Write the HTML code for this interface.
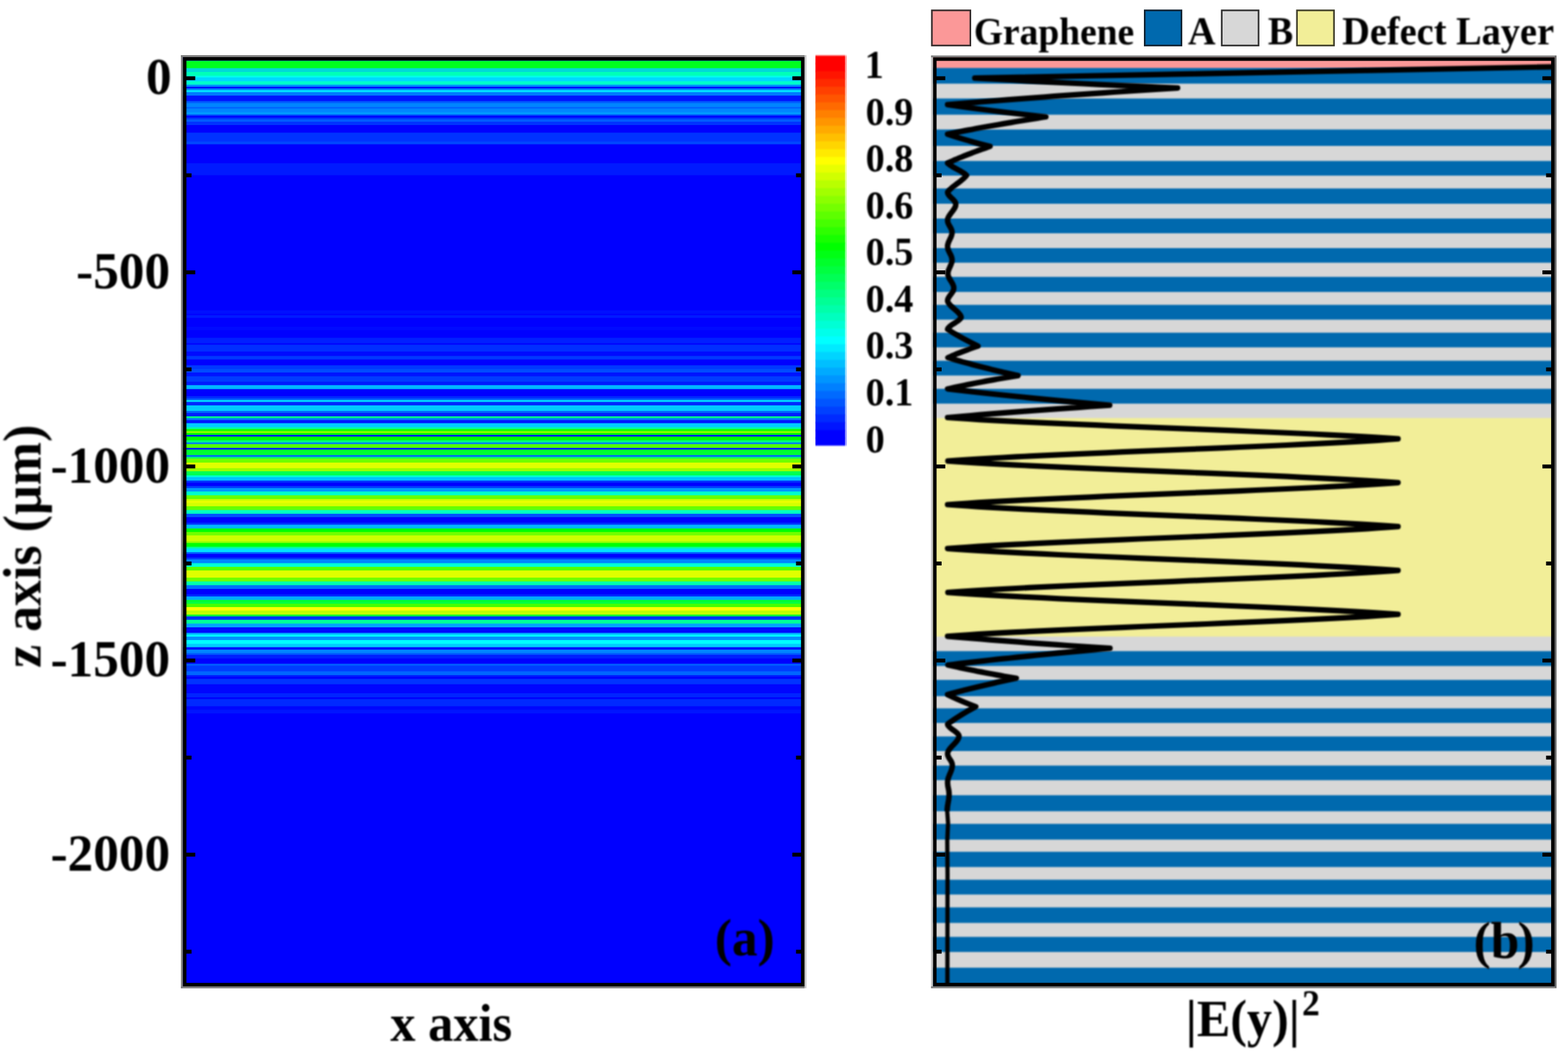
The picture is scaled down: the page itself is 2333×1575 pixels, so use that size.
<!DOCTYPE html>
<html lang="en"><head><meta charset="utf-8"><title>Field distribution</title>
<style>html,body{margin:0;padding:0;background:#fff;}svg{display:block;}text{font-family:'Liberation Serif','Times New Roman',serif;font-weight:bold;fill:#000;}</style></head><body>
<svg xmlns="http://www.w3.org/2000/svg" width="2333" height="1575" viewBox="0 0 2333 1575">
<defs>
<filter id="bv" x="-5%" y="-5%" width="110%" height="110%" color-interpolation-filters="sRGB"><feGaussianBlur stdDeviation="0 0.75"/></filter>
<filter id="bs" x="-5%" y="-5%" width="110%" height="110%" color-interpolation-filters="sRGB"><feGaussianBlur stdDeviation="0 0.9"/></filter>
<filter id="bc" x="-5%" y="-5%" width="110%" height="110%" color-interpolation-filters="sRGB"><feGaussianBlur stdDeviation="0.9"/></filter>
<filter id="bt" x="-5%" y="-5%" width="110%" height="110%" color-interpolation-filters="sRGB"><feGaussianBlur stdDeviation="0.85"/></filter>
<filter id="bf" x="-5%" y="-5%" width="110%" height="110%" color-interpolation-filters="sRGB"><feGaussianBlur stdDeviation="0.6"/></filter>
<filter id="bl" x="-5%" y="-5%" width="110%" height="110%" color-interpolation-filters="sRGB"><feGaussianBlur stdDeviation="1.3"/></filter>
<clipPath id="ca"><rect x="272" y="85" width="925" height="1382"/></clipPath>
<clipPath id="cb"><rect x="1388" y="85" width="925.5" height="1382"/></clipPath>
</defs>
<rect width="2333" height="1575" fill="#fff"/>
<g clip-path="url(#ca)"><g filter="url(#bv)">
<rect x="262" y="78" width="946" height="1396" fill="#0000ff"/>
<rect x="262" y="90.4" width="946" height="12.0" fill="#00ff1f"/>
<rect x="262" y="101.4" width="946" height="6.6" fill="#00d8da"/>
<rect x="262" y="107.0" width="946" height="6.6" fill="#00ffb8"/>
<rect x="262" y="112.6" width="946" height="3.6" fill="#00ffeb"/>
<rect x="262" y="115.2" width="946" height="6.6" fill="#00d6ff"/>
<rect x="262" y="120.8" width="946" height="6.1" fill="#00ffcc"/>
<rect x="262" y="125.9" width="946" height="4.1" fill="#008fff"/>
<rect x="262" y="129.0" width="946" height="3.5" fill="#0000ff"/>
<rect x="262" y="131.5" width="946" height="3.5" fill="#0085ff"/>
<rect x="262" y="134.0" width="946" height="4.1" fill="#00e0ff"/>
<rect x="262" y="137.1" width="946" height="6.1" fill="#007aff"/>
<rect x="262" y="142.2" width="946" height="9.2" fill="#0014ff"/>
<rect x="262" y="150.4" width="946" height="4.0" fill="#005cff"/>
<rect x="262" y="153.4" width="946" height="6.6" fill="#0085ff"/>
<rect x="262" y="159.0" width="946" height="3.6" fill="#0066ff"/>
<rect x="262" y="161.6" width="946" height="6.1" fill="#0085ff"/>
<rect x="262" y="166.7" width="946" height="4.6" fill="#0099ff"/>
<rect x="262" y="170.3" width="946" height="3.0" fill="#0047ff"/>
<rect x="262" y="172.3" width="946" height="3.5" fill="#0000ff"/>
<rect x="262" y="174.8" width="946" height="3.6" fill="#0033ff"/>
<rect x="262" y="177.4" width="946" height="4.6" fill="#005cff"/>
<rect x="262" y="181.0" width="946" height="6.0" fill="#0033ff"/>
<rect x="262" y="186.0" width="946" height="12.3" fill="#0000ff"/>
<rect x="262" y="197.3" width="946" height="14.2" fill="#0033ff"/>
<rect x="262" y="210.5" width="946" height="5.1" fill="#0047ff"/>
<rect x="262" y="214.6" width="946" height="29.1" fill="#0000ff"/>
<rect x="262" y="242.7" width="946" height="18.9" fill="#001aff"/>
<rect x="262" y="260.6" width="946" height="202.0" fill="#0000ff"/>
<rect x="262" y="461.6" width="946" height="6.1" fill="#000fff"/>
<rect x="262" y="466.7" width="946" height="3.0" fill="#0000ff"/>
<rect x="262" y="468.7" width="946" height="5.1" fill="#001aff"/>
<rect x="262" y="472.8" width="946" height="14.2" fill="#0000ff"/>
<rect x="262" y="486.0" width="946" height="6.2" fill="#000aff"/>
<rect x="262" y="491.2" width="946" height="12.2" fill="#0000ff"/>
<rect x="262" y="502.4" width="946" height="9.1" fill="#001fff"/>
<rect x="262" y="510.5" width="946" height="3.1" fill="#0000ff"/>
<rect x="262" y="512.6" width="946" height="11.2" fill="#002eff"/>
<rect x="262" y="522.8" width="946" height="7.6" fill="#000aff"/>
<rect x="262" y="529.4" width="946" height="6.2" fill="#0038ff"/>
<rect x="262" y="534.6" width="946" height="9.7" fill="#0000ff"/>
<rect x="262" y="543.3" width="946" height="6.6" fill="#0038ff"/>
<rect x="262" y="548.9" width="946" height="6.1" fill="#004cff"/>
<rect x="262" y="554.0" width="946" height="6.6" fill="#0014ff"/>
<rect x="262" y="559.6" width="946" height="9.1" fill="#003dff"/>
<rect x="262" y="567.7" width="946" height="6.1" fill="#001aff"/>
<rect x="262" y="572.8" width="946" height="6.9" fill="#00b8ff"/>
<rect x="262" y="578.7" width="946" height="11.4" fill="#0000ff"/>
<rect x="262" y="589.1" width="946" height="4.1" fill="#0029ff"/>
<rect x="262" y="592.2" width="946" height="3.6" fill="#0052ff"/>
<rect x="262" y="594.8" width="946" height="4.0" fill="#00d6ff"/>
<rect x="262" y="597.8" width="946" height="6.1" fill="#0029ff"/>
<rect x="262" y="602.9" width="946" height="9.2" fill="#00ccff"/>
<rect x="262" y="611.1" width="946" height="4.0" fill="#0066ff"/>
<rect x="262" y="614.1" width="946" height="6.1" fill="#001fff"/>
<rect x="262" y="619.2" width="946" height="3.6" fill="#00ff85"/>
<rect x="262" y="621.8" width="946" height="4.0" fill="#007aff"/>
<rect x="262" y="624.8" width="946" height="5.6" fill="#0014ff"/>
<rect x="262" y="629.4" width="946" height="7.1" fill="#00ccff"/>
<rect x="262" y="635.5" width="946" height="3.6" fill="#00ffa3"/>
<rect x="262" y="638.1" width="946" height="4.1" fill="#14ff00"/>
<rect x="262" y="641.2" width="946" height="3.8" fill="#85ff00"/>
<rect x="262" y="644.0" width="946" height="3.8" fill="#00ff00"/>
<rect x="262" y="646.8" width="946" height="3.5" fill="#0014ff"/>
<rect x="262" y="649.3" width="946" height="6.6" fill="#00ff00"/>
<rect x="262" y="654.9" width="946" height="4.1" fill="#00ff85"/>
<rect x="262" y="658.0" width="946" height="3.5" fill="#007aff"/>
<rect x="262" y="660.5" width="946" height="6.6" fill="#52ff00"/>
<rect x="262" y="666.1" width="946" height="3.6" fill="#001fff"/>
<rect x="262" y="668.7" width="946" height="9.1" fill="#00ff33"/>
<rect x="262" y="676.8" width="946" height="3.6" fill="#0066ff"/>
<rect x="262" y="679.4" width="946" height="3.5" fill="#00ff66"/>
<rect x="262" y="681.9" width="946" height="7.1" fill="#70ff00"/>
<rect x="262" y="688.0" width="946" height="9.3" fill="#e0ff00"/>
<rect x="262" y="696.3" width="946" height="5.6" fill="#99ff00"/>
<rect x="262" y="700.9" width="946" height="7.1" fill="#00ff52"/>
<rect x="262" y="707.0" width="946" height="3.6" fill="#00ffcc"/>
<rect x="262" y="709.6" width="946" height="6.1" fill="#00c2ff"/>
<rect x="262" y="714.7" width="946" height="4.0" fill="#0033ff"/>
<rect x="262" y="717.7" width="946" height="6.1" fill="#0000ff"/>
<rect x="262" y="722.8" width="946" height="4.1" fill="#003dff"/>
<rect x="262" y="725.9" width="946" height="6.1" fill="#0099ff"/>
<rect x="262" y="731.0" width="946" height="6.6" fill="#00ffcc"/>
<rect x="262" y="736.6" width="946" height="6.6" fill="#66ff00"/>
<rect x="262" y="742.2" width="946" height="3.6" fill="#ccff00"/>
<rect x="262" y="744.8" width="946" height="4.0" fill="#ebff00"/>
<rect x="262" y="747.8" width="946" height="6.1" fill="#d6ff00"/>
<rect x="262" y="752.9" width="946" height="6.6" fill="#66ff00"/>
<rect x="262" y="758.5" width="946" height="6.6" fill="#00ffc2"/>
<rect x="262" y="764.1" width="946" height="6.1" fill="#0052ff"/>
<rect x="262" y="769.2" width="946" height="9.2" fill="#0000ff"/>
<rect x="262" y="777.4" width="946" height="4.0" fill="#0033ff"/>
<rect x="262" y="780.4" width="946" height="6.6" fill="#00b8ff"/>
<rect x="262" y="786.0" width="946" height="6.2" fill="#00ff00"/>
<rect x="262" y="791.2" width="946" height="6.1" fill="#70ff00"/>
<rect x="262" y="796.3" width="946" height="9.6" fill="#ccff00"/>
<rect x="262" y="804.9" width="946" height="3.6" fill="#99ff00"/>
<rect x="262" y="807.5" width="946" height="6.6" fill="#00ff00"/>
<rect x="262" y="813.1" width="946" height="3.5" fill="#00ff8f"/>
<rect x="262" y="815.6" width="946" height="6.6" fill="#00e0ff"/>
<rect x="262" y="821.2" width="946" height="3.6" fill="#005cff"/>
<rect x="262" y="823.8" width="946" height="6.6" fill="#0000ff"/>
<rect x="262" y="829.4" width="946" height="3.6" fill="#003dff"/>
<rect x="262" y="832.0" width="946" height="6.6" fill="#0085ff"/>
<rect x="262" y="837.6" width="946" height="6.4" fill="#00ffd6"/>
<rect x="262" y="843.0" width="946" height="6.4" fill="#52ff00"/>
<rect x="262" y="848.4" width="946" height="11.7" fill="#e0ff00"/>
<rect x="262" y="859.1" width="946" height="6.6" fill="#70ff00"/>
<rect x="262" y="864.7" width="946" height="6.6" fill="#00ffad"/>
<rect x="262" y="870.3" width="946" height="6.6" fill="#0070ff"/>
<rect x="262" y="875.9" width="946" height="9.1" fill="#0000ff"/>
<rect x="262" y="884.0" width="946" height="4.1" fill="#0029ff"/>
<rect x="262" y="887.1" width="946" height="6.1" fill="#00adff"/>
<rect x="262" y="892.2" width="946" height="4.1" fill="#00ff33"/>
<rect x="262" y="895.3" width="946" height="3.5" fill="#00ff47"/>
<rect x="262" y="897.8" width="946" height="6.1" fill="#47ff00"/>
<rect x="262" y="902.9" width="946" height="6.1" fill="#ffff00"/>
<rect x="262" y="908.0" width="946" height="7.1" fill="#c2ff00"/>
<rect x="262" y="914.1" width="946" height="3.6" fill="#00ff33"/>
<rect x="262" y="916.7" width="946" height="6.1" fill="#0033ff"/>
<rect x="262" y="921.8" width="946" height="6.6" fill="#00ff99"/>
<rect x="262" y="927.4" width="946" height="6.6" fill="#00a3ff"/>
<rect x="262" y="933.0" width="946" height="9.2" fill="#000aff"/>
<rect x="262" y="941.2" width="946" height="3.5" fill="#00adff"/>
<rect x="262" y="943.7" width="946" height="4.1" fill="#00ffff"/>
<rect x="262" y="946.8" width="946" height="6.1" fill="#008fff"/>
<rect x="262" y="951.9" width="946" height="6.6" fill="#00ffff"/>
<rect x="262" y="957.5" width="946" height="6.1" fill="#00ccff"/>
<rect x="262" y="962.6" width="946" height="4.5" fill="#0000ff"/>
<rect x="262" y="966.1" width="946" height="6.1" fill="#0085ff"/>
<rect x="262" y="971.2" width="946" height="3.6" fill="#005cff"/>
<rect x="262" y="973.8" width="946" height="6.6" fill="#001fff"/>
<rect x="262" y="979.4" width="946" height="8.7" fill="#0000ff"/>
<rect x="262" y="987.1" width="946" height="4.1" fill="#005cff"/>
<rect x="262" y="990.2" width="946" height="9.2" fill="#003dff"/>
<rect x="262" y="998.4" width="946" height="6.6" fill="#0066ff"/>
<rect x="262" y="1004.0" width="946" height="3.5" fill="#001fff"/>
<rect x="262" y="1006.5" width="946" height="4.1" fill="#0000ff"/>
<rect x="262" y="1009.6" width="946" height="9.1" fill="#0033ff"/>
<rect x="262" y="1017.7" width="946" height="14.3" fill="#0005ff"/>
<rect x="262" y="1031.0" width="946" height="7.1" fill="#0024ff"/>
<rect x="262" y="1037.1" width="946" height="3.6" fill="#0000ff"/>
<rect x="262" y="1039.7" width="946" height="11.7" fill="#0029ff"/>
<rect x="262" y="1050.4" width="946" height="6.1" fill="#0005ff"/>
<rect x="262" y="1055.5" width="946" height="6.5" fill="#0014ff"/>
<rect x="262" y="1061.0" width="946" height="403.0" fill="#0000ff"/>
</g></g>
<g filter="url(#bf)">
<rect x="277.0" y="113.45" width="13.5" height="5.8" fill="#000"/>
<rect x="1178.9" y="113.45" width="13.5" height="5.8" fill="#000"/>
<rect x="277.0" y="257.79" width="8.0" height="5.8" fill="#000"/>
<rect x="1184.4" y="257.79" width="8.0" height="5.8" fill="#000"/>
<rect x="277.0" y="402.13" width="13.5" height="5.8" fill="#000"/>
<rect x="1178.9" y="402.13" width="13.5" height="5.8" fill="#000"/>
<rect x="277.0" y="546.47" width="8.0" height="5.8" fill="#000"/>
<rect x="1184.4" y="546.47" width="8.0" height="5.8" fill="#000"/>
<rect x="277.0" y="690.81" width="13.5" height="5.8" fill="#000"/>
<rect x="1178.9" y="690.81" width="13.5" height="5.8" fill="#000"/>
<rect x="277.0" y="835.15" width="8.0" height="5.8" fill="#000"/>
<rect x="1184.4" y="835.15" width="8.0" height="5.8" fill="#000"/>
<rect x="277.0" y="979.49" width="13.5" height="5.8" fill="#000"/>
<rect x="1178.9" y="979.49" width="13.5" height="5.8" fill="#000"/>
<rect x="277.0" y="1123.83" width="8.0" height="5.8" fill="#000"/>
<rect x="1184.4" y="1123.83" width="8.0" height="5.8" fill="#000"/>
<rect x="277.0" y="1268.17" width="13.5" height="5.8" fill="#000"/>
<rect x="1178.9" y="1268.17" width="13.5" height="5.8" fill="#000"/>
<rect x="277.0" y="1412.51" width="8.0" height="5.8" fill="#000"/>
<rect x="1184.4" y="1412.51" width="8.0" height="5.8" fill="#000"/>
<rect x="269.2" y="82.0" width="3" height="1387.8" fill="#808080"/>
<rect x="1197.0" y="82.0" width="2.8" height="1387.8" fill="#c4c4c4"/>
<rect x="269.2" y="82.0" width="927.8" height="2.8" fill="#808080"/>
<rect x="269.2" y="1467.0" width="927.8" height="2.9" fill="#808080"/>
<rect x="274.80" y="87.40" width="919.60" height="1377.00" fill="none" stroke="#000" stroke-width="5.2"/>
</g>
<text filter="url(#bt)" font-size="76.3" text-anchor="end" transform="translate(255.50 140.45) scale(1 1.035)">0</text>
<text filter="url(#bt)" font-size="76.3" text-anchor="end" transform="translate(253.10 429.13) scale(1 1.035)">-500</text>
<text filter="url(#bt)" font-size="76.3" text-anchor="end" transform="translate(253.10 717.81) scale(1 1.035)">-1000</text>
<text filter="url(#bt)" font-size="76.3" text-anchor="end" transform="translate(253.10 1006.49) scale(1 1.035)">-1500</text>
<text filter="url(#bt)" font-size="76.3" text-anchor="end" transform="translate(253.10 1295.17) scale(1 1.035)">-2000</text>
<text filter="url(#bt)" font-size="77.2" text-anchor="middle" transform="translate(60.3 812.5) rotate(-90) scale(1 1.035)">z axis (µm)</text>
<text filter="url(#bt)" font-size="75" text-anchor="start" transform="translate(580.70 1548.40) scale(1 1.035)">x axis</text>
<text filter="url(#bt)" font-size="76.5" text-anchor="start" transform="translate(1063.50 1421.30) scale(1 1.035)">(a)</text>
<g filter="url(#bs)">
<rect x="1213.3" y="82.50" width="44.1" height="12.61" fill="#ff0000"/>
<rect x="1257.4" y="82.50" width="2.5" height="11.61" fill="#ff0000" opacity="0.4"/>
<rect x="1213.3" y="94.11" width="44.1" height="12.61" fill="#ff0000"/>
<rect x="1257.4" y="94.11" width="2.5" height="11.61" fill="#ff0000" opacity="0.4"/>
<rect x="1213.3" y="105.71" width="44.1" height="12.61" fill="#ff1500"/>
<rect x="1257.4" y="105.71" width="2.5" height="11.61" fill="#ff1500" opacity="0.4"/>
<rect x="1213.3" y="117.32" width="44.1" height="12.61" fill="#ff2a00"/>
<rect x="1257.4" y="117.32" width="2.5" height="11.61" fill="#ff2a00" opacity="0.4"/>
<rect x="1213.3" y="128.92" width="44.1" height="12.61" fill="#ff4000"/>
<rect x="1257.4" y="128.92" width="2.5" height="11.61" fill="#ff4000" opacity="0.4"/>
<rect x="1213.3" y="140.53" width="44.1" height="12.61" fill="#ff5500"/>
<rect x="1257.4" y="140.53" width="2.5" height="11.61" fill="#ff5500" opacity="0.4"/>
<rect x="1213.3" y="152.14" width="44.1" height="12.61" fill="#ff6a00"/>
<rect x="1257.4" y="152.14" width="2.5" height="11.61" fill="#ff6a00" opacity="0.4"/>
<rect x="1213.3" y="163.74" width="44.1" height="12.61" fill="#ff8000"/>
<rect x="1257.4" y="163.74" width="2.5" height="11.61" fill="#ff8000" opacity="0.4"/>
<rect x="1213.3" y="175.35" width="44.1" height="12.61" fill="#ff9500"/>
<rect x="1257.4" y="175.35" width="2.5" height="11.61" fill="#ff9500" opacity="0.4"/>
<rect x="1213.3" y="186.95" width="44.1" height="12.61" fill="#ffaa00"/>
<rect x="1257.4" y="186.95" width="2.5" height="11.61" fill="#ffaa00" opacity="0.4"/>
<rect x="1213.3" y="198.56" width="44.1" height="12.61" fill="#ffbf00"/>
<rect x="1257.4" y="198.56" width="2.5" height="11.61" fill="#ffbf00" opacity="0.4"/>
<rect x="1213.3" y="210.17" width="44.1" height="12.61" fill="#ffd500"/>
<rect x="1257.4" y="210.17" width="2.5" height="11.61" fill="#ffd500" opacity="0.4"/>
<rect x="1213.3" y="221.77" width="44.1" height="12.61" fill="#ffea00"/>
<rect x="1257.4" y="221.77" width="2.5" height="11.61" fill="#ffea00" opacity="0.4"/>
<rect x="1213.3" y="233.38" width="44.1" height="12.61" fill="#ffff00"/>
<rect x="1257.4" y="233.38" width="2.5" height="11.61" fill="#ffff00" opacity="0.4"/>
<rect x="1213.3" y="244.98" width="44.1" height="12.61" fill="#e8ff00"/>
<rect x="1257.4" y="244.98" width="2.5" height="11.61" fill="#e8ff00" opacity="0.4"/>
<rect x="1213.3" y="256.59" width="44.1" height="12.61" fill="#d1ff00"/>
<rect x="1257.4" y="256.59" width="2.5" height="11.61" fill="#d1ff00" opacity="0.4"/>
<rect x="1213.3" y="268.20" width="44.1" height="12.61" fill="#b9ff00"/>
<rect x="1257.4" y="268.20" width="2.5" height="11.61" fill="#b9ff00" opacity="0.4"/>
<rect x="1213.3" y="279.80" width="44.1" height="12.61" fill="#a2ff00"/>
<rect x="1257.4" y="279.80" width="2.5" height="11.61" fill="#a2ff00" opacity="0.4"/>
<rect x="1213.3" y="291.41" width="44.1" height="12.61" fill="#8bff00"/>
<rect x="1257.4" y="291.41" width="2.5" height="11.61" fill="#8bff00" opacity="0.4"/>
<rect x="1213.3" y="303.01" width="44.1" height="12.61" fill="#74ff00"/>
<rect x="1257.4" y="303.01" width="2.5" height="11.61" fill="#74ff00" opacity="0.4"/>
<rect x="1213.3" y="314.62" width="44.1" height="12.61" fill="#5dff00"/>
<rect x="1257.4" y="314.62" width="2.5" height="11.61" fill="#5dff00" opacity="0.4"/>
<rect x="1213.3" y="326.23" width="44.1" height="12.61" fill="#46ff00"/>
<rect x="1257.4" y="326.23" width="2.5" height="11.61" fill="#46ff00" opacity="0.4"/>
<rect x="1213.3" y="337.83" width="44.1" height="12.61" fill="#2eff00"/>
<rect x="1257.4" y="337.83" width="2.5" height="11.61" fill="#2eff00" opacity="0.4"/>
<rect x="1213.3" y="349.44" width="44.1" height="12.61" fill="#17ff00"/>
<rect x="1257.4" y="349.44" width="2.5" height="11.61" fill="#17ff00" opacity="0.4"/>
<rect x="1213.3" y="361.04" width="44.1" height="12.61" fill="#00ff00"/>
<rect x="1257.4" y="361.04" width="2.5" height="11.61" fill="#00ff00" opacity="0.4"/>
<rect x="1213.3" y="372.65" width="44.1" height="12.61" fill="#00ff15"/>
<rect x="1257.4" y="372.65" width="2.5" height="11.61" fill="#00ff15" opacity="0.4"/>
<rect x="1213.3" y="384.26" width="44.1" height="12.61" fill="#00ff2b"/>
<rect x="1257.4" y="384.26" width="2.5" height="11.61" fill="#00ff2b" opacity="0.4"/>
<rect x="1213.3" y="395.86" width="44.1" height="12.61" fill="#00ff40"/>
<rect x="1257.4" y="395.86" width="2.5" height="11.61" fill="#00ff40" opacity="0.4"/>
<rect x="1213.3" y="407.47" width="44.1" height="12.61" fill="#00ff55"/>
<rect x="1257.4" y="407.47" width="2.5" height="11.61" fill="#00ff55" opacity="0.4"/>
<rect x="1213.3" y="419.07" width="44.1" height="12.61" fill="#00ff6a"/>
<rect x="1257.4" y="419.07" width="2.5" height="11.61" fill="#00ff6a" opacity="0.4"/>
<rect x="1213.3" y="430.68" width="44.1" height="12.61" fill="#00ff80"/>
<rect x="1257.4" y="430.68" width="2.5" height="11.61" fill="#00ff80" opacity="0.4"/>
<rect x="1213.3" y="442.29" width="44.1" height="12.61" fill="#00ff95"/>
<rect x="1257.4" y="442.29" width="2.5" height="11.61" fill="#00ff95" opacity="0.4"/>
<rect x="1213.3" y="453.89" width="44.1" height="12.61" fill="#00ffaa"/>
<rect x="1257.4" y="453.89" width="2.5" height="11.61" fill="#00ffaa" opacity="0.4"/>
<rect x="1213.3" y="465.50" width="44.1" height="12.61" fill="#00ffbf"/>
<rect x="1257.4" y="465.50" width="2.5" height="11.61" fill="#00ffbf" opacity="0.4"/>
<rect x="1213.3" y="477.10" width="44.1" height="12.61" fill="#00ffd5"/>
<rect x="1257.4" y="477.10" width="2.5" height="11.61" fill="#00ffd5" opacity="0.4"/>
<rect x="1213.3" y="488.71" width="44.1" height="12.61" fill="#00ffea"/>
<rect x="1257.4" y="488.71" width="2.5" height="11.61" fill="#00ffea" opacity="0.4"/>
<rect x="1213.3" y="500.32" width="44.1" height="12.61" fill="#00ffff"/>
<rect x="1257.4" y="500.32" width="2.5" height="11.61" fill="#00ffff" opacity="0.4"/>
<rect x="1213.3" y="511.92" width="44.1" height="12.61" fill="#00eaff"/>
<rect x="1257.4" y="511.92" width="2.5" height="11.61" fill="#00eaff" opacity="0.4"/>
<rect x="1213.3" y="523.53" width="44.1" height="12.61" fill="#00d4ff"/>
<rect x="1257.4" y="523.53" width="2.5" height="11.61" fill="#00d4ff" opacity="0.4"/>
<rect x="1213.3" y="535.13" width="44.1" height="12.61" fill="#00bfff"/>
<rect x="1257.4" y="535.13" width="2.5" height="11.61" fill="#00bfff" opacity="0.4"/>
<rect x="1213.3" y="546.74" width="44.1" height="12.61" fill="#00aaff"/>
<rect x="1257.4" y="546.74" width="2.5" height="11.61" fill="#00aaff" opacity="0.4"/>
<rect x="1213.3" y="558.35" width="44.1" height="12.61" fill="#0095ff"/>
<rect x="1257.4" y="558.35" width="2.5" height="11.61" fill="#0095ff" opacity="0.4"/>
<rect x="1213.3" y="569.95" width="44.1" height="12.61" fill="#0080ff"/>
<rect x="1257.4" y="569.95" width="2.5" height="11.61" fill="#0080ff" opacity="0.4"/>
<rect x="1213.3" y="581.56" width="44.1" height="12.61" fill="#006aff"/>
<rect x="1257.4" y="581.56" width="2.5" height="11.61" fill="#006aff" opacity="0.4"/>
<rect x="1213.3" y="593.16" width="44.1" height="12.61" fill="#0055ff"/>
<rect x="1257.4" y="593.16" width="2.5" height="11.61" fill="#0055ff" opacity="0.4"/>
<rect x="1213.3" y="604.77" width="44.1" height="12.61" fill="#0040ff"/>
<rect x="1257.4" y="604.77" width="2.5" height="11.61" fill="#0040ff" opacity="0.4"/>
<rect x="1213.3" y="616.38" width="44.1" height="12.61" fill="#002aff"/>
<rect x="1257.4" y="616.38" width="2.5" height="11.61" fill="#002aff" opacity="0.4"/>
<rect x="1213.3" y="627.98" width="44.1" height="12.61" fill="#0015ff"/>
<rect x="1257.4" y="627.98" width="2.5" height="11.61" fill="#0015ff" opacity="0.4"/>
<rect x="1213.3" y="639.59" width="44.1" height="12.61" fill="#0000ff"/>
<rect x="1257.4" y="639.59" width="2.5" height="11.61" fill="#0000ff" opacity="0.4"/>
<rect x="1213.3" y="651.19" width="44.1" height="11.61" fill="#0000ff"/>
<rect x="1257.4" y="651.19" width="2.5" height="11.61" fill="#0000ff" opacity="0.4"/>
</g>
<text filter="url(#bt)" font-size="56.8" text-anchor="start" transform="translate(1286.60 116.00) scale(1 1.035)">1</text>
<text filter="url(#bt)" font-size="56.8" text-anchor="start" transform="translate(1288.00 185.57) scale(1 1.035)">0.9</text>
<text filter="url(#bt)" font-size="56.8" text-anchor="start" transform="translate(1288.00 255.14) scale(1 1.035)">0.8</text>
<text filter="url(#bt)" font-size="56.8" text-anchor="start" transform="translate(1288.00 324.71) scale(1 1.035)">0.6</text>
<text filter="url(#bt)" font-size="56.8" text-anchor="start" transform="translate(1288.00 394.28) scale(1 1.035)">0.5</text>
<text filter="url(#bt)" font-size="56.8" text-anchor="start" transform="translate(1288.00 463.85) scale(1 1.035)">0.4</text>
<text filter="url(#bt)" font-size="56.8" text-anchor="start" transform="translate(1288.00 533.42) scale(1 1.035)">0.3</text>
<text filter="url(#bt)" font-size="56.8" text-anchor="start" transform="translate(1288.00 602.99) scale(1 1.035)">0.1</text>
<text filter="url(#bt)" font-size="56.8" text-anchor="start" transform="translate(1288.00 672.56) scale(1 1.035)">0</text>
<g clip-path="url(#cb)"><g filter="url(#bs)">
<rect x="1380" y="78" width="942" height="30" fill="#fb9898"/>
<rect x="1380" y="101.1" width="942" height="24.3" fill="#0069ae"/>
<rect x="1380" y="124.4" width="942" height="23.1" fill="#d7d7d7"/>
<rect x="1380" y="146.5" width="942" height="25.1" fill="#0069ae"/>
<rect x="1380" y="170.6" width="942" height="23.0" fill="#d7d7d7"/>
<rect x="1380" y="192.6" width="942" height="25.4" fill="#0069ae"/>
<rect x="1380" y="217.0" width="942" height="23.4" fill="#d7d7d7"/>
<rect x="1380" y="239.4" width="942" height="22.8" fill="#0069ae"/>
<rect x="1380" y="261.2" width="942" height="20.1" fill="#d7d7d7"/>
<rect x="1380" y="280.3" width="942" height="23.7" fill="#0069ae"/>
<rect x="1380" y="303.0" width="942" height="23.0" fill="#d7d7d7"/>
<rect x="1380" y="325.0" width="942" height="22.9" fill="#0069ae"/>
<rect x="1380" y="346.9" width="942" height="23.1" fill="#d7d7d7"/>
<rect x="1380" y="369.0" width="942" height="22.7" fill="#0069ae"/>
<rect x="1380" y="390.7" width="942" height="22.1" fill="#d7d7d7"/>
<rect x="1380" y="411.8" width="942" height="23.4" fill="#0069ae"/>
<rect x="1380" y="434.2" width="942" height="20.2" fill="#d7d7d7"/>
<rect x="1380" y="453.4" width="942" height="23.0" fill="#0069ae"/>
<rect x="1380" y="475.4" width="942" height="20.4" fill="#d7d7d7"/>
<rect x="1380" y="494.8" width="942" height="22.8" fill="#0069ae"/>
<rect x="1380" y="516.6" width="942" height="20.9" fill="#d7d7d7"/>
<rect x="1380" y="536.5" width="942" height="23.0" fill="#0069ae"/>
<rect x="1380" y="558.5" width="942" height="20.8" fill="#d7d7d7"/>
<rect x="1380" y="578.3" width="942" height="23.0" fill="#0069ae"/>
<rect x="1380" y="600.3" width="942" height="22.4" fill="#d7d7d7"/>
<rect x="1380" y="621.7" width="942" height="326.0" fill="#f2ee98"/>
<rect x="1380" y="946.7" width="942" height="29.7" fill="#d7d7d7"/>
<rect x="1380" y="968.4" width="942" height="30.1" fill="#0069ae"/>
<rect x="1380" y="990.5" width="942" height="28.7" fill="#d7d7d7"/>
<rect x="1380" y="1011.2" width="942" height="32.2" fill="#0069ae"/>
<rect x="1380" y="1035.4" width="942" height="26.1" fill="#d7d7d7"/>
<rect x="1380" y="1053.5" width="942" height="29.7" fill="#0069ae"/>
<rect x="1380" y="1075.2" width="942" height="28.1" fill="#d7d7d7"/>
<rect x="1380" y="1095.3" width="942" height="29.7" fill="#0069ae"/>
<rect x="1380" y="1117.0" width="942" height="29.6" fill="#d7d7d7"/>
<rect x="1380" y="1138.6" width="942" height="29.7" fill="#0069ae"/>
<rect x="1380" y="1160.3" width="942" height="30.4" fill="#d7d7d7"/>
<rect x="1380" y="1182.7" width="942" height="31.8" fill="#0069ae"/>
<rect x="1380" y="1206.5" width="942" height="26.8" fill="#d7d7d7"/>
<rect x="1380" y="1225.3" width="942" height="31.4" fill="#0069ae"/>
<rect x="1380" y="1248.7" width="942" height="26.1" fill="#d7d7d7"/>
<rect x="1380" y="1266.8" width="942" height="30.7" fill="#0069ae"/>
<rect x="1380" y="1289.5" width="942" height="26.9" fill="#d7d7d7"/>
<rect x="1380" y="1308.4" width="942" height="30.0" fill="#0069ae"/>
<rect x="1380" y="1330.4" width="942" height="27.1" fill="#d7d7d7"/>
<rect x="1380" y="1349.5" width="942" height="31.1" fill="#0069ae"/>
<rect x="1380" y="1372.6" width="942" height="28.8" fill="#d7d7d7"/>
<rect x="1380" y="1393.4" width="942" height="30.4" fill="#0069ae"/>
<rect x="1380" y="1415.8" width="942" height="31.4" fill="#d7d7d7"/>
<rect x="1380" y="1439.2" width="942" height="31.8" fill="#0069ae"/>
</g>
<g filter="url(#bl)" fill="none" stroke="#000" stroke-linejoin="round">
<polyline points="1412.1,1181.0 1412.1,1182.0 1412.1,1183.0 1412.0,1184.0 1411.9,1185.0 1411.8,1186.0 1411.7,1187.0 1411.6,1188.0 1411.5,1189.0 1411.3,1190.0 1411.1,1191.0 1411.0,1192.0 1410.8,1193.0 1410.6,1194.0 1410.4,1195.0 1410.3,1196.0 1410.1,1197.0 1409.9,1198.0 1409.8,1199.0 1409.7,1200.0 1409.6,1201.0 1409.5,1202.0 1409.4,1203.0 1409.3,1204.0 1409.3,1205.0 1409.3,1206.0 1410.6,1224.0 1409.4,1250.0 1409.8,1300.0 1409.6,1463.0" stroke-width="6.3" stroke-linecap="round"/>
<polyline points="2316.0,99.3 1450.4,116.1 1468.9,117.1 1488.0,118.2 1507.4,119.2 1527.4,120.3 1547.8,121.3 1568.6,122.4 1589.9,123.5 1611.7,124.5 1634.0,125.6 1656.7,126.6 1679.8,127.7 1703.5,128.7 1727.5,129.8 1752.1,130.8 1735.8,131.8 1719.7,132.9 1703.7,133.9 1687.9,135.0 1672.3,136.0 1656.9,137.0 1641.7,138.1 1626.6,139.1 1611.7,140.1 1597.0,141.2 1582.5,142.2 1568.2,143.2 1554.0,144.3 1540.0,145.3 1526.2,146.4 1512.6,147.4 1499.1,148.4 1485.8,149.5 1472.7,150.5 1459.8,151.5 1447.1,152.6 1434.5,153.6 1422.1,154.7 1409.9,155.7 1416.9,156.7 1424.0,157.7 1431.2,158.7 1438.6,159.7 1446.1,160.7 1453.8,161.7 1461.5,162.7 1469.5,163.7 1477.5,164.8 1485.7,165.8 1494.0,166.8 1502.5,167.8 1511.1,168.8 1519.8,169.8 1528.7,170.8 1537.7,171.8 1546.8,172.8 1556.1,173.8 1549.4,174.8 1542.8,175.9 1536.2,176.9 1529.8,177.9 1523.4,179.0 1517.0,180.0 1510.7,181.0 1504.5,182.1 1498.4,183.1 1492.4,184.1 1486.4,185.2 1480.5,186.2 1474.6,187.2 1468.8,188.2 1463.1,189.3 1457.5,190.3 1451.9,191.3 1446.4,192.4 1441.0,193.4 1435.6,194.4 1430.3,195.5 1425.1,196.5 1420.0,197.5 1414.9,198.6 1409.9,199.6 1412.9,200.6 1416.0,201.6 1419.1,202.6 1422.3,203.6 1425.6,204.6 1428.9,205.6 1432.2,206.6 1435.6,207.6 1439.1,208.6 1442.7,209.7 1446.3,210.7 1449.9,211.7 1453.6,212.7 1457.4,213.7 1461.2,214.7 1465.1,215.7 1469.1,216.7 1473.1,217.7 1470.1,218.7 1467.1,219.8 1464.2,220.8 1461.2,221.8 1458.4,222.9 1455.5,223.9 1452.7,225.0 1449.9,226.0 1447.2,227.0 1444.5,228.1 1441.8,229.1 1439.1,230.1 1436.5,231.2 1433.9,232.2 1431.4,233.3 1428.9,234.3 1426.4,235.3 1423.9,236.4 1421.5,237.4 1419.1,238.4 1416.8,239.5 1414.4,240.5 1412.2,241.6 1409.9,242.6 1411.0,243.6 1412.3,244.6 1413.7,245.6 1415.2,246.6 1416.8,247.6 1418.5,248.6 1420.3,249.6 1422.1,250.6 1424.0,251.6 1425.9,252.7 1427.7,253.7 1429.5,254.7 1431.2,255.7 1432.8,256.7 1434.3,257.7 1435.7,258.7 1437.0,259.7 1438.1,260.7 1437.3,261.7 1436.4,262.7 1435.5,263.7 1434.5,264.7 1433.4,265.7 1432.3,266.7 1431.1,267.7 1429.9,268.7 1428.6,269.7 1427.3,270.7 1426.0,271.7 1424.7,272.7 1423.3,273.7 1422.0,274.7 1420.7,275.7 1419.4,276.7 1418.1,277.7 1416.9,278.7 1415.7,279.7 1414.6,280.7 1413.5,281.7 1412.5,282.7 1411.6,283.7 1410.7,284.7 1409.9,285.7 1410.0,286.7 1410.3,287.7 1410.7,288.7 1411.3,289.7 1412.1,290.7 1413.0,291.7 1413.9,292.7 1414.9,293.7 1416.0,294.7 1417.1,295.7 1418.1,296.7 1419.0,297.7 1419.9,298.7 1420.7,299.7 1421.3,300.7 1421.7,301.7 1422.0,302.7 1422.1,303.7 1422.0,304.7 1421.9,305.7 1421.6,306.7 1421.3,307.7 1420.8,308.7 1420.3,309.7 1419.7,310.7 1419.0,311.7 1418.3,312.7 1417.6,313.7 1416.8,314.7 1416.0,315.8 1415.2,316.8 1414.4,317.8 1413.7,318.8 1413.0,319.8 1412.3,320.8 1411.7,321.8 1411.2,322.8 1410.7,323.8 1410.4,324.8 1410.1,325.8 1410.0,326.8 1409.9,327.8 1410.0,328.8 1410.1,329.9 1410.4,330.9 1410.8,332.0 1411.2,333.0 1411.7,334.0 1412.3,335.1 1412.9,336.1 1413.5,337.2 1414.1,338.2 1414.7,339.3 1415.2,340.3 1415.6,341.3 1416.0,342.4 1416.3,343.4 1416.4,344.5 1416.5,345.5 1416.5,346.5 1416.4,347.5 1416.2,348.5 1415.9,349.5 1415.6,350.5 1415.3,351.6 1414.9,352.6 1414.4,353.6 1413.9,354.6 1413.4,355.6 1413.0,356.6 1412.5,357.6 1412.0,358.6 1411.6,359.6 1411.1,360.6 1410.8,361.7 1410.5,362.7 1410.2,363.7 1410.0,364.7 1409.9,365.7 1409.9,366.7 1409.9,367.7 1410.1,368.8 1410.3,369.8 1410.6,370.9 1411.0,371.9 1411.4,373.0 1411.9,374.0 1412.4,375.0 1412.9,376.1 1413.5,377.1 1414.0,378.2 1414.5,379.2 1415.0,380.2 1415.4,381.3 1415.8,382.3 1416.1,383.4 1416.3,384.4 1416.5,385.5 1416.5,386.5 1416.5,387.5 1416.4,388.6 1416.2,389.6 1415.9,390.6 1415.6,391.6 1415.2,392.7 1414.8,393.7 1414.4,394.7 1413.9,395.8 1413.5,396.8 1413.0,397.8 1412.5,398.9 1412.1,399.9 1411.7,400.9 1411.3,402.0 1411.0,403.0 1410.7,404.0 1410.5,405.0 1410.4,406.1 1410.4,407.1 1410.4,408.1 1410.6,409.1 1410.8,410.2 1411.2,411.2 1411.6,412.2 1412.0,413.2 1412.6,414.3 1413.2,415.3 1413.8,416.3 1414.4,417.3 1415.1,418.4 1415.7,419.4 1416.3,420.4 1416.9,421.4 1417.5,422.5 1417.9,423.5 1418.3,424.5 1418.7,425.5 1418.9,426.6 1419.1,427.6 1419.1,428.6 1419.0,429.6 1418.9,430.6 1418.5,431.6 1418.1,432.6 1417.6,433.6 1417.0,434.6 1416.3,435.6 1415.6,436.6 1414.9,437.6 1414.1,438.6 1413.4,439.6 1412.7,440.6 1412.0,441.6 1411.4,442.6 1410.9,443.6 1410.5,444.6 1410.1,445.6 1410.0,446.6 1409.9,447.6 1410.2,448.6 1410.6,449.6 1411.2,450.6 1411.8,451.6 1412.6,452.6 1413.5,453.6 1414.4,454.6 1415.4,455.6 1416.5,456.6 1417.7,457.6 1418.8,458.6 1420.0,459.6 1421.2,460.7 1422.3,461.7 1423.5,462.7 1424.6,463.7 1425.6,464.7 1426.5,465.7 1427.4,466.7 1428.2,467.7 1428.8,468.7 1429.4,469.7 1429.8,470.7 1430.1,471.7 1429.7,472.7 1429.0,473.7 1428.2,474.7 1427.1,475.7 1425.9,476.7 1424.6,477.7 1423.1,478.7 1421.6,479.7 1420.0,480.7 1418.4,481.7 1416.9,482.7 1415.4,483.7 1414.1,484.7 1412.9,485.7 1411.8,486.7 1411.0,487.7 1410.3,488.7 1409.9,489.7 1411.4,490.7 1413.0,491.7 1414.6,492.7 1416.2,493.7 1417.9,494.7 1419.5,495.7 1421.2,496.7 1422.9,497.7 1424.6,498.7 1426.4,499.7 1428.1,500.7 1429.9,501.7 1431.7,502.7 1433.5,503.7 1435.4,504.7 1437.3,505.7 1439.2,506.7 1441.1,507.7 1443.0,508.7 1445.0,509.7 1447.0,510.7 1449.0,511.7 1451.0,512.7 1453.0,513.7 1455.1,514.7 1452.1,515.7 1449.1,516.7 1446.2,517.7 1443.4,518.7 1440.6,519.8 1437.8,520.8 1435.1,521.8 1432.4,522.8 1429.8,523.8 1427.2,524.8 1424.6,525.8 1422.2,526.8 1419.7,527.9 1417.3,528.9 1415.0,529.9 1412.7,530.9 1410.4,531.9 1413.8,532.9 1417.3,534.0 1420.8,535.0 1424.4,536.0 1428.0,537.0 1431.7,538.1 1435.4,539.1 1439.2,540.1 1443.0,541.1 1446.8,542.2 1450.7,543.2 1454.7,544.2 1458.6,545.2 1462.7,546.3 1466.8,547.3 1470.9,548.3 1475.1,549.4 1479.3,550.4 1483.5,551.4 1487.9,552.4 1492.2,553.5 1496.6,554.5 1501.1,555.5 1505.6,556.5 1510.1,557.6 1514.7,558.6 1508.4,559.6 1502.2,560.7 1496.1,561.7 1490.0,562.8 1484.1,563.8 1478.2,564.9 1472.4,565.9 1466.7,566.9 1461.1,568.0 1455.6,569.0 1450.2,570.1 1444.9,571.1 1439.6,572.1 1434.4,573.2 1429.4,574.2 1424.4,575.3 1419.5,576.3 1414.6,577.4 1409.9,578.4 1418.5,579.4 1427.2,580.4 1436.1,581.4 1445.1,582.5 1454.2,583.5 1463.4,584.5 1472.8,585.5 1482.3,586.5 1491.9,587.5 1501.6,588.5 1511.5,589.5 1521.5,590.5 1531.6,591.6 1541.8,592.6 1552.2,593.6 1562.7,594.6 1573.3,595.6 1584.0,596.6 1594.9,597.6 1605.9,598.7 1617.0,599.7 1628.2,600.7 1639.6,601.7 1651.1,602.7 1635.8,603.7 1620.7,604.7 1605.9,605.8 1591.2,606.8 1576.8,607.8 1562.7,608.8 1548.7,609.8 1535.0,610.8 1521.5,611.9 1508.2,612.9 1495.1,613.9 1482.3,614.9 1469.6,615.9 1457.2,616.9 1445.1,618.0 1433.1,619.0 1421.4,620.0 1409.9,621.0 1424.6,622.0 1440.4,623.0 1457.4,624.1 1475.6,625.1 1494.9,626.1 1515.2,627.1 1536.6,628.2 1558.8,629.2 1581.9,630.2 1605.7,631.2 1630.1,632.2 1655.1,633.3 1680.5,634.3 1706.2,635.3 1732.0,636.3 1758.0,637.4 1783.8,638.4 1809.5,639.4 1834.9,640.4 1859.9,641.5 1884.3,642.5 1908.1,643.5 1931.2,644.5 1953.4,645.5 1974.8,646.6 1995.1,647.6 2014.4,648.6 2032.6,649.6 2049.6,650.7 2065.4,651.7 2080.1,652.7 2065.9,653.7 2050.6,654.8 2034.2,655.8 2016.8,656.8 1998.2,657.8 1978.7,658.9 1958.3,659.9 1936.9,660.9 1914.8,662.0 1892.0,663.0 1868.5,664.0 1844.5,665.0 1820.1,666.1 1795.3,667.1 1770.3,668.1 1745.2,669.2 1720.2,670.2 1695.2,671.2 1670.4,672.2 1646.0,673.3 1622.0,674.3 1598.5,675.3 1575.7,676.3 1553.6,677.4 1532.2,678.4 1511.8,679.4 1492.3,680.5 1473.7,681.5 1456.3,682.5 1439.9,683.5 1424.6,684.6 1410.4,685.6 1424.6,686.6 1439.9,687.6 1456.3,688.6 1473.7,689.6 1492.3,690.6 1511.8,691.6 1532.2,692.6 1553.6,693.6 1575.7,694.7 1598.5,695.7 1622.0,696.7 1646.0,697.7 1670.4,698.7 1695.2,699.7 1720.2,700.7 1745.2,701.7 1770.3,702.7 1795.3,703.7 1820.1,704.7 1844.5,705.7 1868.5,706.7 1892.0,707.7 1914.8,708.7 1936.9,709.8 1958.3,710.8 1978.7,711.8 1998.2,712.8 2016.8,713.8 2034.2,714.8 2050.6,715.8 2065.9,716.8 2080.1,717.8 2065.9,718.8 2050.6,719.8 2034.2,720.9 2016.7,721.9 1998.2,722.9 1978.7,723.9 1958.2,725.0 1936.8,726.0 1914.7,727.0 1891.8,728.0 1868.4,729.0 1844.3,730.1 1819.9,731.1 1795.1,732.1 1770.1,733.1 1745.0,734.1 1719.9,735.2 1694.9,736.2 1670.1,737.2 1645.7,738.2 1621.6,739.3 1598.2,740.3 1575.3,741.3 1553.2,742.3 1531.8,743.3 1511.3,744.4 1491.8,745.4 1473.3,746.4 1455.8,747.4 1439.4,748.5 1424.1,749.5 1409.9,750.5 1424.1,751.5 1439.4,752.5 1455.8,753.6 1473.3,754.6 1491.8,755.6 1511.3,756.6 1531.8,757.7 1553.2,758.7 1575.3,759.7 1598.2,760.7 1621.6,761.7 1645.7,762.8 1670.1,763.8 1694.9,764.8 1719.9,765.8 1745.0,766.9 1770.1,767.9 1795.1,768.9 1819.9,769.9 1844.3,770.9 1868.4,772.0 1891.8,773.0 1914.7,774.0 1936.8,775.0 1958.2,776.0 1978.7,777.1 1998.2,778.1 2016.7,779.1 2034.2,780.1 2050.6,781.2 2065.9,782.2 2080.1,783.2 2065.9,784.2 2050.6,785.2 2034.2,786.3 2016.7,787.3 1998.2,788.3 1978.7,789.3 1958.2,790.3 1936.8,791.4 1914.7,792.4 1891.8,793.4 1868.4,794.4 1844.3,795.4 1819.9,796.4 1795.1,797.5 1770.1,798.5 1745.0,799.5 1719.9,800.5 1694.9,801.5 1670.1,802.6 1645.7,803.6 1621.6,804.6 1598.2,805.6 1575.3,806.6 1553.2,807.6 1531.8,808.7 1511.3,809.7 1491.8,810.7 1473.3,811.7 1455.8,812.7 1439.4,813.8 1424.1,814.8 1409.9,815.8 1424.1,816.8 1439.4,817.8 1455.8,818.9 1473.3,819.9 1491.8,820.9 1511.3,821.9 1531.8,822.9 1553.2,823.9 1575.3,825.0 1598.2,826.0 1621.6,827.0 1645.7,828.0 1670.1,829.0 1694.9,830.1 1719.9,831.1 1745.0,832.1 1770.1,833.1 1795.1,834.1 1819.9,835.2 1844.3,836.2 1868.4,837.2 1891.8,838.2 1914.7,839.2 1936.8,840.2 1958.2,841.3 1978.7,842.3 1998.2,843.3 2016.7,844.3 2034.2,845.3 2050.6,846.4 2065.9,847.4 2080.1,848.4 2065.9,849.4 2050.6,850.4 2034.2,851.5 2016.8,852.5 1998.2,853.5 1978.7,854.5 1958.3,855.6 1936.9,856.6 1914.8,857.6 1892.0,858.6 1868.5,859.6 1844.5,860.7 1820.1,861.7 1795.3,862.7 1770.3,863.7 1745.2,864.8 1720.2,865.8 1695.2,866.8 1670.4,867.8 1646.0,868.8 1622.0,869.9 1598.5,870.9 1575.7,871.9 1553.6,872.9 1532.2,873.9 1511.8,875.0 1492.3,876.0 1473.7,877.0 1456.3,878.0 1439.9,879.1 1424.6,880.1 1410.4,881.1 1424.6,882.1 1439.9,883.1 1456.3,884.2 1473.7,885.2 1492.3,886.2 1511.8,887.2 1532.2,888.2 1553.6,889.2 1575.7,890.3 1598.5,891.3 1622.0,892.3 1646.0,893.3 1670.4,894.3 1695.2,895.4 1720.2,896.4 1745.2,897.4 1770.3,898.4 1795.3,899.4 1820.1,900.5 1844.5,901.5 1868.5,902.5 1892.0,903.5 1914.8,904.5 1936.9,905.6 1958.3,906.6 1978.7,907.6 1998.2,908.6 2016.8,909.6 2034.2,910.6 2050.6,911.7 2065.9,912.7 2080.1,913.7 2065.9,914.7 2050.6,915.7 2034.2,916.8 2016.7,917.8 1998.2,918.8 1978.7,919.8 1958.2,920.8 1936.8,921.9 1914.7,922.9 1891.8,923.9 1868.4,924.9 1844.3,925.9 1819.9,926.9 1795.1,928.0 1770.1,929.0 1745.0,930.0 1719.9,931.0 1694.9,932.0 1670.1,933.1 1645.7,934.1 1621.6,935.1 1598.2,936.1 1575.3,937.1 1553.2,938.1 1531.8,939.2 1511.3,940.2 1491.8,941.2 1473.3,942.2 1455.8,943.2 1439.4,944.3 1424.1,945.3 1409.9,946.3 1422.1,947.4 1434.6,948.4 1447.3,949.5 1460.2,950.5 1473.4,951.6 1486.9,952.6 1500.6,953.7 1514.6,954.7 1528.8,955.8 1543.2,956.8 1558.0,957.9 1572.9,958.9 1588.1,960.0 1603.6,961.0 1619.3,962.1 1635.3,963.1 1651.5,964.2 1640.0,965.2 1628.6,966.3 1617.4,967.3 1606.3,968.3 1595.3,969.4 1584.4,970.4 1573.7,971.4 1563.1,972.5 1552.6,973.5 1542.3,974.5 1532.0,975.6 1521.9,976.6 1511.9,977.6 1502.1,978.7 1492.3,979.7 1482.7,980.7 1473.2,981.8 1463.9,982.8 1454.7,983.8 1445.6,984.9 1436.6,985.9 1427.7,986.9 1419.0,988.0 1410.4,989.0 1415.0,990.0 1419.7,991.1 1424.4,992.1 1429.3,993.2 1434.2,994.2 1439.2,995.3 1444.3,996.3 1449.5,997.3 1454.8,998.4 1460.1,999.4 1465.6,1000.5 1471.1,1001.5 1476.7,1002.5 1482.4,1003.6 1488.2,1004.6 1494.0,1005.7 1500.0,1006.7 1506.0,1007.8 1512.1,1008.8 1507.2,1009.8 1502.4,1010.8 1497.6,1011.8 1492.9,1012.8 1488.3,1013.8 1483.7,1014.8 1479.1,1015.9 1474.6,1016.9 1470.2,1017.9 1465.8,1018.9 1461.5,1019.9 1457.2,1020.9 1452.9,1021.9 1448.8,1022.9 1444.6,1023.9 1440.6,1024.9 1436.5,1025.9 1432.6,1027.0 1428.7,1028.0 1424.8,1029.0 1421.0,1030.0 1417.2,1031.0 1413.5,1032.0 1409.9,1033.0 1411.9,1034.0 1413.9,1035.0 1416.0,1036.0 1418.1,1037.0 1420.3,1038.0 1422.5,1039.0 1424.7,1040.0 1427.0,1041.0 1429.3,1042.0 1431.6,1043.0 1434.0,1044.0 1436.4,1045.0 1438.9,1046.0 1441.4,1047.0 1443.9,1048.0 1446.5,1049.0 1449.1,1050.0 1451.8,1051.0 1449.9,1052.0 1448.0,1053.1 1446.1,1054.1 1444.3,1055.1 1442.4,1056.2 1440.6,1057.2 1438.8,1058.2 1437.0,1059.3 1435.3,1060.3 1433.5,1061.3 1431.8,1062.4 1430.1,1063.4 1428.4,1064.4 1426.8,1065.4 1425.2,1066.5 1423.5,1067.5 1421.9,1068.5 1420.4,1069.6 1418.8,1070.6 1417.3,1071.6 1415.8,1072.7 1414.3,1073.7 1412.8,1074.7 1411.3,1075.8 1409.9,1076.8 1410.1,1077.8 1410.6,1078.8 1411.3,1079.8 1412.1,1080.8 1413.2,1081.8 1414.4,1082.8 1415.6,1083.8 1417.0,1084.8 1418.4,1085.8 1419.8,1086.9 1421.2,1087.9 1422.4,1088.9 1423.6,1089.9 1424.7,1090.9 1425.5,1091.9 1426.2,1092.9 1426.7,1093.9 1426.9,1094.9 1426.7,1095.9 1426.5,1097.0 1426.1,1098.0 1425.6,1099.0 1425.0,1100.1 1424.3,1101.1 1423.6,1102.1 1422.7,1103.2 1421.8,1104.2 1420.9,1105.2 1419.9,1106.3 1418.9,1107.3 1417.9,1108.3 1416.9,1109.3 1415.9,1110.4 1415.0,1111.4 1414.1,1112.4 1413.2,1113.5 1412.5,1114.5 1411.8,1115.5 1411.2,1116.6 1410.7,1117.6 1410.3,1118.6 1410.1,1119.7 1409.9,1120.7 1410.0,1121.7 1410.1,1122.7 1410.4,1123.7 1410.8,1124.7 1411.3,1125.8 1411.8,1126.8 1412.4,1127.8 1413.1,1128.8 1413.7,1129.8 1414.4,1130.8 1415.0,1131.8 1415.5,1132.8 1416.0,1133.9 1416.4,1134.9 1416.7,1135.9 1416.8,1136.9 1416.9,1137.9 1416.9,1138.9 1416.8,1140.0 1416.7,1141.0 1416.5,1142.0 1416.2,1143.1 1416.0,1144.1 1415.6,1145.2 1415.3,1146.2 1414.9,1147.2 1414.5,1148.3 1414.1,1149.3 1413.6,1150.3 1413.2,1151.4 1412.7,1152.4 1412.3,1153.4 1411.9,1154.5 1411.5,1155.5 1411.2,1156.5 1410.8,1157.6 1410.6,1158.6 1410.3,1159.7 1410.1,1160.7 1410.0,1161.7 1409.9,1162.8 1409.9,1163.8 1409.9,1164.8 1410.0,1165.8 1410.1,1166.8 1410.2,1167.8 1410.3,1168.9 1410.5,1169.9 1410.7,1170.9 1410.9,1171.9 1411.1,1172.9 1411.3,1173.9 1411.5,1174.9 1411.7,1175.9 1411.8,1177.0 1411.9,1178.0 1412.0,1179.0 1412.1,1180.0 1412.1,1181.0 1412.1,1182.0 1412.1,1183.0 1412.0,1184.0 1411.9,1185.0 1411.8,1186.0 1411.7,1187.0 1411.6,1188.0 1411.5,1189.0 1411.3,1190.0 1411.1,1191.0 1411.0,1192.0 1410.8,1193.0 1410.6,1194.0 1410.4,1195.0 1410.3,1196.0 1410.1,1197.0 1409.9,1198.0 1409.8,1199.0 1409.7,1200.0 1409.6,1201.0 1409.5,1202.0 1409.4,1203.0 1409.3,1204.0 1409.3,1205.0 1409.3,1206.0" stroke-width="8.2" stroke-linecap="butt"/>
</g>
</g>
<g filter="url(#bf)">
<rect x="1393.0" y="113.45" width="13.5" height="5.8" fill="#000"/>
<rect x="2294.9" y="113.45" width="13.5" height="5.8" fill="#000"/>
<rect x="1393.0" y="257.79" width="8.0" height="5.8" fill="#000"/>
<rect x="2300.4" y="257.79" width="8.0" height="5.8" fill="#000"/>
<rect x="1393.0" y="402.13" width="13.5" height="5.8" fill="#000"/>
<rect x="2294.9" y="402.13" width="13.5" height="5.8" fill="#000"/>
<rect x="1393.0" y="546.47" width="8.0" height="5.8" fill="#000"/>
<rect x="2300.4" y="546.47" width="8.0" height="5.8" fill="#000"/>
<rect x="1393.0" y="690.81" width="13.5" height="5.8" fill="#000"/>
<rect x="2294.9" y="690.81" width="13.5" height="5.8" fill="#000"/>
<rect x="1393.0" y="835.15" width="8.0" height="5.8" fill="#000"/>
<rect x="2300.4" y="835.15" width="8.0" height="5.8" fill="#000"/>
<rect x="1393.0" y="979.49" width="13.5" height="5.8" fill="#000"/>
<rect x="2294.9" y="979.49" width="13.5" height="5.8" fill="#000"/>
<rect x="1393.0" y="1123.83" width="8.0" height="5.8" fill="#000"/>
<rect x="2300.4" y="1123.83" width="8.0" height="5.8" fill="#000"/>
<rect x="1393.0" y="1268.17" width="13.5" height="5.8" fill="#000"/>
<rect x="2294.9" y="1268.17" width="13.5" height="5.8" fill="#000"/>
<rect x="1393.0" y="1412.51" width="8.0" height="5.8" fill="#000"/>
<rect x="2300.4" y="1412.51" width="8.0" height="5.8" fill="#000"/>
<rect x="1385.3" y="82.5" width="3" height="1387.2" fill="#c4c4c4"/>
<rect x="2313.1" y="82.5" width="2.8" height="1387.2" fill="#686868"/>
<rect x="1385.3" y="82.5" width="927.8" height="2.8" fill="#808080"/>
<rect x="1385.3" y="1466.9" width="927.8" height="2.9" fill="#808080"/>
<rect x="1390.90" y="87.90" width="919.60" height="1376.40" fill="none" stroke="#000" stroke-width="5.2"/>
</g>
<text filter="url(#bt)" font-size="76.5" text-anchor="start" transform="translate(2192.50 1425.30) scale(1 1.035)">(b<tspan dx="-2.5">)</tspan></text>
<text filter="url(#bt)" font-size="74.7" text-anchor="start" transform="translate(1764.20 1541.00) scale(1 1.035)">|E(y)|<tspan font-size="53" dy="-30" dx="3.2">2</tspan></text>
<g filter="url(#bf)">
<rect x="1386.5" y="15.4" width="57.3" height="52.3" fill="#fb9898" stroke="#332a2a" stroke-width="2.4"/>
<rect x="1703.2" y="15.4" width="54.7" height="52.3" fill="#0069ae" stroke="#10202e" stroke-width="2.4"/>
<rect x="1817.8" y="15.4" width="54.8" height="52.3" fill="#d7d7d7" stroke="#2c2c2c" stroke-width="2.4"/>
<rect x="1929.7" y="15.4" width="55.1" height="52.3" fill="#f2ee98" stroke="#3c3b26" stroke-width="2.4"/>
</g>
<text filter="url(#bt)" font-size="55.8" text-anchor="start" transform="translate(1448.90 66.00) scale(1 1.035)">Graphene</text>
<text filter="url(#bt)" font-size="57" text-anchor="start" transform="translate(1767.40 66.00) scale(1 1.035)">A</text>
<text filter="url(#bt)" font-size="56.5" text-anchor="start" transform="translate(1886.40 66.00) scale(1 1.035)">B</text>
<text filter="url(#bt)" font-size="57.1" text-anchor="start" transform="translate(1996.90 66.20) scale(1 1.035)">Defect Layer</text>
</svg></body></html>
